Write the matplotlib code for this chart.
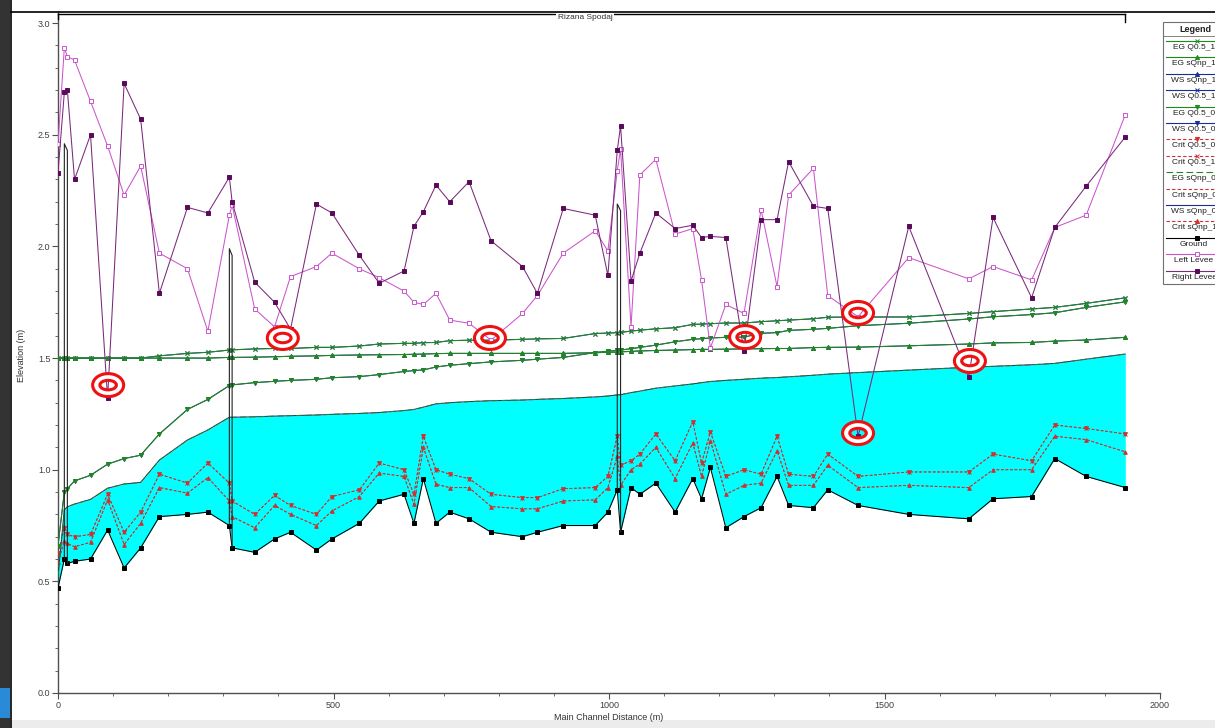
import matplotlib.pyplot as plt
import matplotlib.patches as mpatches
import matplotlib.transforms as mtransforms
from matplotlib.lines import Line2D
import numpy as np

plt.rcParams['font.family'] = ['Liberation Sans Narrow', 'Liberation Sans', 'DejaVu Sans']

# river stations along the main channel (m)
sta = [0, 11.5, 17, 30, 59, 90, 120, 150, 184, 235, 272, 311, 316, 357, 393,
       422, 469, 497, 547, 583, 628, 646, 663, 686, 711, 746, 786, 843, 870,
       917, 975, 998, 1015, 1021, 1040, 1056, 1085, 1120, 1152, 1168, 1184,
       1212, 1245, 1276, 1305, 1326, 1371, 1397, 1452, 1544, 1653, 1697, 1767,
       1809, 1866, 1937]

# channel invert
ground = [0.47, 0.60, 0.58, 0.59, 0.60, 0.73, 0.56, 0.65, 0.79, 0.80, 0.81,
          0.75, 0.65, 0.63, 0.69, 0.72, 0.64, 0.69, 0.76, 0.86, 0.89, 0.76,
          0.96, 0.76, 0.81, 0.78, 0.72, 0.70, 0.72, 0.75, 0.75, 0.81, 0.91,
          0.72, 0.92, 0.89, 0.94, 0.81, 0.96, 0.87, 1.01, 0.74, 0.79, 0.83,
          0.97, 0.84, 0.83, 0.91, 0.84, 0.80, 0.78, 0.87, 0.88, 1.05, 0.97, 0.92]

left_levee = [2.46, 2.89, 2.85, 2.835, 2.65, 2.45, 2.23, 2.36, 1.97, 1.90,
              1.62, 2.14, 2.185, 1.72, 1.64, 1.865, 1.91, 1.97, 1.90, 1.86,
              1.80, 1.75, 1.74, 1.79, 1.67, 1.656, 1.58, 1.70, 1.78, 1.97,
              2.07, 1.98, 2.34, 2.435, 1.64, 2.32, 2.39, 2.055, 2.08, 1.85,
              1.545, 1.74, 1.70, 2.165, 1.82, 2.23, 2.35, 1.78, 1.685, 1.95,
              1.855, 1.91, 1.85, 2.085, 2.14, 2.59]

right_levee = [2.33, 2.69, 2.70, 2.30, 2.50, 1.32, 2.73, 2.57, 1.79, 2.175,
               2.15, 2.31, 2.20, 1.84, 1.75, 1.63, 2.19, 2.15, 1.96, 1.835,
               1.89, 2.09, 2.155, 2.275, 2.20, 2.29, 2.025, 1.91, 1.79, 2.17,
               2.14, 1.87, 2.43, 2.54, 1.845, 1.97, 2.15, 2.08, 2.095, 2.04,
               2.045, 2.04, 1.53, 2.12, 2.12, 2.38, 2.18, 2.17, 1.15, 2.09,
               1.415, 2.13, 1.77, 2.085, 2.27, 2.49]

# water surface profiles
ws_q1 = [1.50, 1.50, 1.50, 1.50, 1.50, 1.50, 1.50, 1.50, 1.51, 1.521, 1.526,
         1.536, 1.537, 1.541, 1.543, 1.543, 1.548, 1.548, 1.554, 1.563, 1.566,
         1.566, 1.569, 1.57, 1.578, 1.58, 1.58, 1.584, 1.586, 1.588, 1.61,
         1.612, 1.614, 1.615, 1.621, 1.625, 1.631, 1.636, 1.651, 1.652, 1.654,
         1.657, 1.657, 1.663, 1.667, 1.670, 1.676, 1.683, 1.684, 1.684, 1.70,
         1.708, 1.72, 1.727, 1.745, 1.77]

ws_s1 = [1.50, 1.50, 1.50, 1.50, 1.50, 1.50, 1.50, 1.50, 1.50, 1.50, 1.50,
         1.503, 1.503, 1.504, 1.506, 1.508, 1.51, 1.512, 1.514, 1.515, 1.516,
         1.517, 1.518, 1.52, 1.521, 1.521, 1.521, 1.521, 1.521, 1.521, 1.524,
         1.526, 1.527, 1.528, 1.53, 1.532, 1.534, 1.536, 1.538, 1.539, 1.539,
         1.540, 1.541, 1.542, 1.543, 1.543, 1.547, 1.548, 1.549, 1.555, 1.563,
         1.568, 1.570, 1.576, 1.581, 1.593]

ws_q0 = [0.66, 0.90, 0.915, 0.95, 0.975, 1.025, 1.05, 1.065, 1.16, 1.27, 1.315,
         1.377, 1.38, 1.39, 1.396, 1.40, 1.405, 1.412, 1.417, 1.426, 1.44,
         1.444, 1.447, 1.46, 1.468, 1.475, 1.483, 1.49, 1.495, 1.503, 1.525,
         1.531, 1.534, 1.536, 1.542, 1.548, 1.558, 1.573, 1.584, 1.587, 1.59,
         1.593, 1.594, 1.611, 1.614, 1.624, 1.629, 1.633, 1.645, 1.656, 1.675,
         1.685, 1.695, 1.703, 1.727, 1.752]

ws_s0 = [0.52, 0.82, 0.834, 0.846, 0.867, 0.917, 0.936, 0.943, 1.043, 1.133,
         1.178, 1.235, 1.235, 1.237, 1.240, 1.242, 1.245, 1.248, 1.252, 1.256,
         1.265, 1.27, 1.28, 1.295, 1.30, 1.305, 1.309, 1.312, 1.315, 1.319,
         1.326, 1.330, 1.335, 1.336, 1.345, 1.352, 1.365, 1.375, 1.384, 1.39,
         1.395, 1.400, 1.405, 1.41, 1.413, 1.416, 1.423, 1.428, 1.435, 1.446,
         1.459, 1.463, 1.470, 1.476, 1.495, 1.518]

# critical depth profiles
crit_q = [0.625, 0.74, 0.71, 0.70, 0.71, 0.89, 0.72, 0.81, 0.98, 0.94, 1.03,
          0.94, 0.86, 0.80, 0.885, 0.84, 0.80, 0.88, 0.91, 1.03, 1.00, 0.89,
          1.15, 1.00, 0.98, 0.96, 0.89, 0.875, 0.875, 0.915, 0.92, 0.97, 1.15,
          1.02, 1.04, 1.07, 1.16, 1.04, 1.215, 1.03, 1.17, 0.97, 1.00, 0.98,
          1.15, 0.98, 0.97, 1.07, 0.97, 0.99, 0.99, 1.07, 1.04, 1.20, 1.185, 1.16]

crit_s = [0.585, 0.68, 0.67, 0.655, 0.675, 0.865, 0.665, 0.76, 0.92, 0.895,
          0.965, 0.86, 0.79, 0.74, 0.84, 0.80, 0.75, 0.815, 0.88, 0.985, 0.97,
          0.845, 1.10, 0.935, 0.92, 0.92, 0.835, 0.825, 0.825, 0.86, 0.865,
          0.92, 1.06, 0.93, 1.00, 1.025, 1.10, 0.96, 1.12, 0.97, 1.13, 0.89,
          0.93, 0.94, 1.085, 0.93, 0.93, 1.02, 0.92, 0.93, 0.92, 1.00, 1.00,
          1.15, 1.135, 1.08]

# bridges: upstream face, downstream face, deck top
bridge_us = [11.5, 311, 1015]
bridge_ds = [17, 316, 1021]
bridge_top = [2.46, 1.99, 2.19]

# marked spots on the profile
ring_sta = [91, 408, 784, 1247, 1452, 1452, 1655]
ring_elev = [1.379, 1.59, 1.59, 1.594, 1.702, 1.164, 1.487]

reach_name = 'Rizana Spodaj'

GREEN = '#1e8a1e'
BLUE = '#1c2f8f'
RED = '#d03030'

series = [
    ('EG Q0.5_1', ws_q1, dict(color=GREEN, ls='-', marker='x', zorder=4.2)),
    ('EG sQnp_1', ws_s1, dict(color=GREEN, ls='-', marker='^', zorder=4.2)),
    ('WS sQnp_1', ws_s1, dict(color=BLUE, ls='-', marker='^', zorder=4)),
    ('WS Q0.5_1', ws_q1, dict(color=BLUE, ls='-', marker='x', zorder=4)),
    ('EG Q0.5_0', ws_q0, dict(color=GREEN, ls='-', marker='v', zorder=4.2)),
    ('WS Q0.5_0', ws_q0, dict(color=BLUE, ls='-', marker='v', zorder=4)),
    ('Crit Q0.5_0', crit_q, dict(color=RED, ls=(0, (3, 2)), marker='v', zorder=3)),
    ('Crit Q0.5_1', crit_q, dict(color=RED, ls=(0, (3, 2)), marker='x', zorder=3)),
    ('EG sQnp_0', ws_s0, dict(color=GREEN, ls=(0, (6, 3)), marker=None, zorder=4.2)),
    ('Crit sQnp_0', crit_s, dict(color=RED, ls=(0, (3, 2)), marker=None, zorder=3)),
    ('WS sQnp_0', ws_s0, dict(color=BLUE, ls='-', marker=None, zorder=4)),
    ('Crit sQnp_1', crit_s, dict(color=RED, ls=(0, (3, 2)), marker='^', zorder=3)),
    ('Ground', ground, dict(color='black', ls='-', marker='s', zorder=5)),
    ('Left Levee', left_levee, dict(color='#cc55cc', ls='-', marker='s', mfc='white', zorder=6)),
    ('Right Levee', right_levee, dict(color='#7a2a7a', ls='-', marker='s', mfc='#5a0a5a', mec='#5a0a5a', zorder=6)),
]

W, H = 1215, 728
fig = plt.figure(figsize=(W / 100, H / 100), dpi=100)
ax = fig.add_axes([58 / W, 1 - 693 / H, (1160 - 58) / W, (693 - 12) / H])


def fx(px):
    return px / W


def fy(py):
    return 1 - py / H


# water between invert and the sQnp_0 surface
ax.fill_between(sta, ground, ws_s0, color='#00ffff', lw=0, zorder=1)

for label, y, st in series:
    if st['marker'] == 's':
        ms = 3.3
    elif st['color'] == RED:
        ms = 2.6
    else:
        ms = 2.8
    lw = 0.65 if st['color'] == RED else 0.75
    ax.plot(sta, y, color=st['color'], ls=st['ls'], lw=lw, marker=st['marker'],
            ms=ms, mew=0.7, mfc=st.get('mfc', st['color']),
            mec=st.get('mec', st['color']), zorder=st['zorder'])

# bridge outlines
for x1, x2, top in zip(bridge_us, bridge_ds, bridge_top):
    g1, g2 = np.interp([x1, x2], sta, ground)
    ax.plot([x1, x1, x2, x2], [g1, top, top - 0.03, g2], color='#222222',
            lw=0.8, zorder=5.5)

# red target rings
for xs, ys in zip(ring_sta, ring_elev):
    tr = fig.dpi_scale_trans + mtransforms.ScaledTranslation(xs, ys, ax.transData)
    ax.add_patch(mpatches.Annulus((0, 0), (0.15, 0.11), 0.065, transform=tr,
                                  fc='white', ec='none', zorder=9))
    ax.add_patch(mpatches.Ellipse((0, 0), 0.31, 0.23, transform=tr, fill=False,
                                  ec='#ee1111', lw=2.2, zorder=10))
    ax.add_patch(mpatches.Ellipse((0, 0), 0.165, 0.095, transform=tr, fill=False,
                                  ec='#ee1111', lw=2.2, zorder=10))

ax.set_xlim(0, 2000)
ax.set_ylim(0, 3.05)
ax.set_xticks(np.arange(0, 2001, 500))
ax.set_xticks(np.arange(0, 2001, 100), minor=True)
ax.set_yticks(np.arange(0, 3.01, 0.5))
ax.set_yticks(np.arange(0, 3.01, 0.1), minor=True)
ax.set_yticklabels([f'{v:.1f}' for v in np.arange(0, 3.01, 0.5)])
ax.tick_params(which='major', length=4, width=0.8, color='#505050',
               labelsize=6.5, labelcolor='#404040', pad=1.5)
ax.tick_params(which='minor', length=2.5, width=0.6, color='#505050')
for side in ('top', 'right'):
    ax.spines[side].set_visible(False)
for side in ('left', 'bottom'):
    ax.spines[side].set_color('#505050')
    ax.spines[side].set_linewidth(1.0)

fig.text(fx(22), fy(355), 'Elevation (m)', rotation=90, ha='center',
         va='center', fontsize=6.5, color='#303030')
fig.text(fx(609), fy(718), 'Main Channel Distance (m)', ha='center',
         va='center', fontsize=6.5, color='#303030')

# reach bar along the top
rt = mtransforms.blended_transform_factory(ax.transData, ax.transAxes)
ax.plot([sta[0], sta[-1]], [0.997, 0.997], transform=rt, color='black',
        lw=1.0, clip_on=False, zorder=11)
ax.plot([sta[0], sta[0]], [0.997, 0.989], transform=rt, color='black',
        lw=1.0, clip_on=False, zorder=11)
ax.plot([sta[-1], sta[-1]], [0.997, 0.986], transform=rt, color='black',
        lw=1.0, clip_on=False, zorder=11)
ax.text((sta[0] + sta[-1]) / 2 - 12, 0.9925, reach_name, transform=rt,
        ha='center', va='center', fontsize=6, color='#303030',
        bbox=dict(fc='white', ec='none', pad=1.0), clip_on=False, zorder=12)

# window edge
fig.patches.append(mpatches.Rectangle((0, 0), fx(10), 1, transform=fig.transFigure,
                                      fc='#333333', ec='none'))
fig.patches.append(mpatches.Rectangle((0, fy(718)), fx(10), 30 / H,
                                      transform=fig.transFigure, fc='#2a8ad8', ec='none'))
fig.patches.append(mpatches.Rectangle((fx(10), 0), 1, 8 / H, transform=fig.transFigure,
                                      fc='#ececec', ec='none'))
fig.add_artist(Line2D([fx(11), fx(11)], [0, 1], color='black', lw=1.2))
fig.add_artist(Line2D([fx(11), 1], [fy(11.5), fy(11.5)], color='black', lw=1.2))

# legend panel
fig.patches.append(mpatches.Rectangle((fx(1163), fy(284)), fx(1245) - fx(1163),
                                      fy(22) - fy(284), transform=fig.transFigure,
                                      fc='white', ec='#707070', lw=0.8))
fig.text(fx(1195), fy(29), 'Legend', ha='center', va='center', fontsize=6.5,
         weight='bold', color='#202020')
fig.add_artist(Line2D([fx(1163), 1], [fy(36), fy(36)], color='#707070', lw=0.6))
for i, (label, _, st) in enumerate(series):
    ys = 41 + 16.4 * i
    fig.add_artist(Line2D([fx(1166), fx(1235)], [fy(ys), fy(ys)], color=st['color'],
                          ls=st['ls'], lw=0.8))
    if st['marker']:
        fig.add_artist(Line2D([fx(1197)], [fy(ys)], marker=st['marker'], ms=3.0,
                              mew=0.7, color=st['color'],
                              mfc=st.get('mfc', st['color']),
                              mec=st.get('mec', st['color'])))
    fig.text(fx(1194), fy(ys + 6.5), label, ha='center', va='center',
             fontsize=6, color='#202020')

fig.savefig('out.png', dpi=100)
